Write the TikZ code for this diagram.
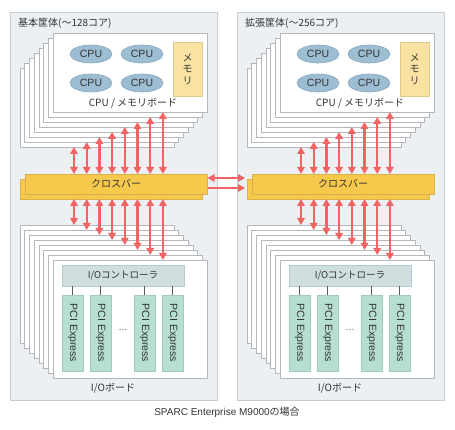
\documentclass[tikz,border=0pt]{standalone}
\usepackage{fontspec}
\setmainfont{Liberation Sans}
\newfontfamily\jp{Noto Sans CJK JP}
\usetikzlibrary{arrows.meta,calc,shapes.geometric}
\definecolor{cabfill}{HTML}{ECF0F3}
\definecolor{cabline}{HTML}{C6CDD2}
\definecolor{boardline}{HTML}{B4B8BC}
\definecolor{cpufill}{HTML}{9DBDD2}
\definecolor{cpuline}{HTML}{86A6BC}
\definecolor{memfill}{HTML}{FAE3A2}
\definecolor{memline}{HTML}{DCCB8E}
\definecolor{xbfill}{HTML}{F6C94C}
\definecolor{xbline}{HTML}{D9B24A}
\definecolor{arrred}{HTML}{F26464}
\definecolor{ctlfill}{HTML}{CFDFE0}
\definecolor{ctlline}{HTML}{B7C9CA}
\definecolor{pcifill}{HTML}{B6DFCF}
\definecolor{pciline}{HTML}{9FCBBA}
\definecolor{txt}{HTML}{333333}
\tikzset{
  box/.style={anchor=north west, inner sep=0pt, outer sep=0pt},
  cab/.style={box, fill=cabfill, draw=cabline, line width=0.8pt},
  board/.style={box, fill=white, draw=boardline, line width=0.7pt},
  cpu/.style={ellipse, fill=cpufill, draw=cpuline, line width=0.6pt, minimum width=42pt, minimum height=18pt, inner sep=0pt, text=txt, font=\fontsize{10.5}{12}\selectfont},
  mem/.style={box, fill=memfill, draw=memline, line width=0.6pt, align=center, text=txt, font=\jp\fontsize{10}{11.5}\selectfont},
  xbar/.style={box, fill=xbfill, draw=xbline, line width=0.6pt, text=txt, font=\jp\fontsize{10}{12}\selectfont},
  ctl/.style={box, fill=ctlfill, draw=ctlline, line width=0.6pt, text=txt, font=\jp\fontsize{9.5}{12}\selectfont},
  pci/.style={box, fill=pcifill, draw=pciline, line width=0.6pt},
  pcitext/.style={rotate=-90, text=txt, font=\fontsize{10.5}{12}\selectfont, inner sep=0pt},
  lbl/.style={text=txt, font=\jp\fontsize{10}{12}\selectfont, inner sep=0pt},
  arr/.style={draw=arrred, line width=2.3pt, {Triangle[length=7pt,width=7.5pt]}-{Triangle[length=7pt,width=7.5pt]}},
  arrone/.style={draw=arrred, line width=2.3pt, -{Triangle[length=7pt,width=7.5pt]}},
  link/.style={draw=black!65, line width=0.8pt}
}
\begin{document}
\begin{tikzpicture}[x=1pt,y=-1pt]
\useasboundingbox (0,0) rectangle (455,430);
\fill[white] (0,0) rectangle (455,430);
\foreach \ox/\s/\lab in {0/L/{基本筐体(〜128コア)}, 227/R/{拡張筐体(〜256コア)}} {
\begin{scope}[xshift=\ox]
  \node[cab, minimum width=207pt, minimum height=388pt] (cab\s) at (10,12) {};
  \node[lbl, anchor=west] (lab\s) at (18,23) {\lab};
  % CPU/memory boards
  \foreach \k in {7,...,0}
    \node[board, minimum width=154pt, minimum height=79pt] (cb\k\s) at ({53-4.7*\k},{33+5*\k}) {};
  \node[cpu] (cpuA\s) at (91,54) {CPU};
  \node[cpu] (cpuB\s) at (142,54) {CPU};
  \node[cpu] (cpuC\s) at (91,83) {CPU};
  \node[cpu] (cpuD\s) at (142,83) {CPU};
  \node[mem, minimum width=29pt, minimum height=54pt] (mem\s) at (173,42) {メ\\モ\\リ};
  \node[lbl] (cbl\s) at (133,103) {CPU / メモリボード};
  % crossbar
  \node[xbar, minimum width=182pt, minimum height=20pt] (xbb\s) at (20,179) {};
  \node[xbar, minimum width=182pt, minimum height=20pt] (xbf\s) at (25,174) {クロスバー};
  % I/O boards
  \foreach \k in {7,...,0}
    \node[board, minimum width=154pt, minimum height=118pt] (iob\k\s) at ({53-4.7*\k},{260-5*\k}) {};
  \node[ctl, minimum width=122pt, minimum height=21pt] (ctl\s) at (62,265) {I/Oコントローラ};
  \foreach \i/\px in {1/62,2/90,3/134,4/162} {
    \node[pci, minimum width=21.5pt, minimum height=76pt] (pci\i\s) at (\px,295) {};
    \node[pcitext] at (pci\i\s.center) {PCI Express};
    \draw[link] (pci\i\s.north) -- (pci\i\s.north |- ctl\s.south);
  }
  \node[text=txt, inner sep=0pt, font=\fontsize{9}{10}\selectfont] (dots\s) at (123,331) {···};
  \node[lbl] (iol\s) at (113,388) {I/Oボード};
  % vertical arrows
  \foreach \j [evaluate=\j as \k using int(7-\j)] in {0,...,7} {
    \coordinate (ax\j\s) at ({74+12.7*\j},0);
    \draw[arr] (ax\j\s |- cb\k\s.south) -- (ax\j\s |- xbf\s.north);
    \draw[arr] (ax\j\s |- xbb\s.south) -- (ax\j\s |- iob\k\s.north);
  }
\end{scope}
}
\coordinate (hy1) at (0,178);
\coordinate (hy2) at (0,188);
\draw[arr, shorten <=0.5pt, shorten >=2pt] (xbfL.east |- hy1) -- (xbbR.west |- hy1);
\draw[arrone, shorten <=0.5pt, shorten >=2pt] (xbfL.east |- hy2) -- (xbbR.west |- hy2);
\node[text=txt, inner sep=0pt, font=\fontsize{10}{12}\selectfont] (cap) at (227,412) {SPARC Enterprise M9000{\jp の場合}};
\end{tikzpicture}
\end{document}
